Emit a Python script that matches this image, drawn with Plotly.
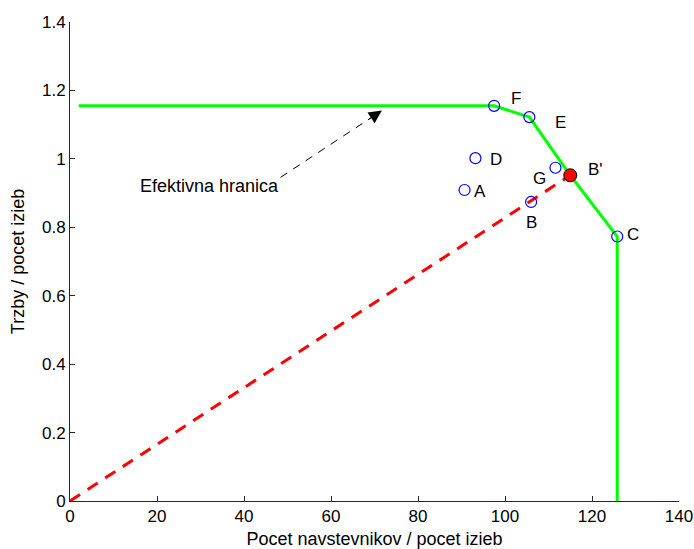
import plotly.graph_objects as go

# data
labels = ["A", "B", "C", "D", "E", "F", "G"]
xs = [90.7, 106.0, 125.8, 93.2, 105.6, 97.5, 111.6]
ys = [0.909, 0.874, 0.773, 1.002, 1.122, 1.155, 0.974]

bp_label = "B'"
bp_x = 115.0
bp_y = 0.952

frontier_x = [2.0, 97.5, 105.6, 115.0, 125.8, 125.8]
frontier_y = [1.155, 1.155, 1.122, 0.952, 0.773, 0.0]

ray_x = [0.0, 115.0]
ray_y = [0.0, 0.952]

arrow_tail = (48.4, 0.946)
arrow_head = (71.7, 1.141)
arrow_text = "Efektivna hranica"

x_ticks = [0, 20, 40, 60, 80, 100, 120, 140]
y_ticks = [0, 0.2, 0.4, 0.6, 0.8, 1.0, 1.2, 1.4]
y_tick_text = ["0", "0.2", "0.4", "0.6", "0.8", "1", "1.2", "1.4"]

# label offsets (pixels)
label_dx = {"A": 15, "B": 0, "C": 16, "D": 21, "E": 31, "F": 22, "G": -16}
label_dy = {"A": -2, "B": -21, "C": 2, "D": -1, "E": -5, "F": 7, "G": -11}

FONT = "Liberation Sans, Arial, Helvetica, sans-serif"

fig = go.Figure()

fig.add_trace(go.Scatter(x=ray_x, y=ray_y, mode="lines",
                         line=dict(color="#ff0000", width=3, dash="12px,9px"),
                         hoverinfo="skip"))
fig.add_trace(go.Scatter(x=frontier_x, y=frontier_y, mode="lines",
                         line=dict(color="#00ff00", width=3),
                         hoverinfo="skip"))
fig.add_trace(go.Scatter(x=xs, y=ys, mode="markers",
                         marker=dict(symbol="circle-open", size=11,
                                     color="#0000ff", line=dict(width=1.2, color="#0000ff"))))
fig.add_trace(go.Scatter(x=[bp_x], y=[bp_y], mode="markers",
                         marker=dict(symbol="circle", size=13, color="#ff0000",
                                     line=dict(width=1, color="#000000"))))
# dashed arrow shaft
fig.add_trace(go.Scatter(x=[arrow_tail[0], arrow_head[0] - 2.5],
                         y=[arrow_tail[1], arrow_head[1] - 0.021],
                         mode="lines",
                         line=dict(color="#000000", width=1, dash="8px,7px"),
                         hoverinfo="skip"))

annotations = []
for lab, x, y in zip(labels, xs, ys):
    annotations.append(dict(x=x, y=y, text=lab, showarrow=False,
                            xshift=label_dx[lab], yshift=label_dy[lab],
                            font=dict(family=FONT, size=17, color="black")))
annotations.append(dict(x=bp_x, y=bp_y, text=bp_label, showarrow=False,
                        xshift=25, yshift=6,
                        font=dict(family=FONT, size=17, color="black")))
# arrowhead
annotations.append(dict(x=arrow_head[0], y=arrow_head[1],
                        ax=arrow_head[0] - 3.5, ay=arrow_head[1] - 0.0295,
                        axref="x", ayref="y", xref="x", yref="y",
                        text="", showarrow=True, arrowhead=2, arrowsize=2.6,
                        arrowwidth=1, arrowcolor="black"))
annotations.append(dict(x=arrow_tail[0], y=arrow_tail[1], text=arrow_text,
                        showarrow=False, xanchor="right", yanchor="middle",
                        xshift=0, yshift=-9,
                        font=dict(family=FONT, size=18, color="black")))

fig.update_layout(
    width=694, height=549,
    margin=dict(l=70, r=15, t=22, b=48),
    paper_bgcolor="white", plot_bgcolor="white",
    showlegend=False,
    annotations=annotations,
    font=dict(family=FONT, size=17, color="black"),
)
fig.update_xaxes(range=[0, 140], tickvals=x_ticks, ticks="inside", ticklen=5,
                 tickcolor="#262626", showline=True, linecolor="#262626", linewidth=1,
                 showgrid=False, zeroline=False, mirror=False, automargin=False,
                 title=dict(text="Pocet navstevnikov / pocet izieb", standoff=8,
                            font=dict(family=FONT, size=18)),
                 tickfont=dict(family=FONT, size=17))
fig.update_yaxes(range=[0, 1.4], tickvals=y_ticks, ticktext=y_tick_text,
                 ticks="inside", ticklen=5,
                 tickcolor="#262626", showline=True, linecolor="#262626", linewidth=1,
                 showgrid=False, zeroline=False, mirror=False, automargin=False,
                 title=dict(text="Trzby / pocet izieb", standoff=12,
                            font=dict(family=FONT, size=18)),
                 tickfont=dict(family=FONT, size=17))

fig.write_html("out.html")
